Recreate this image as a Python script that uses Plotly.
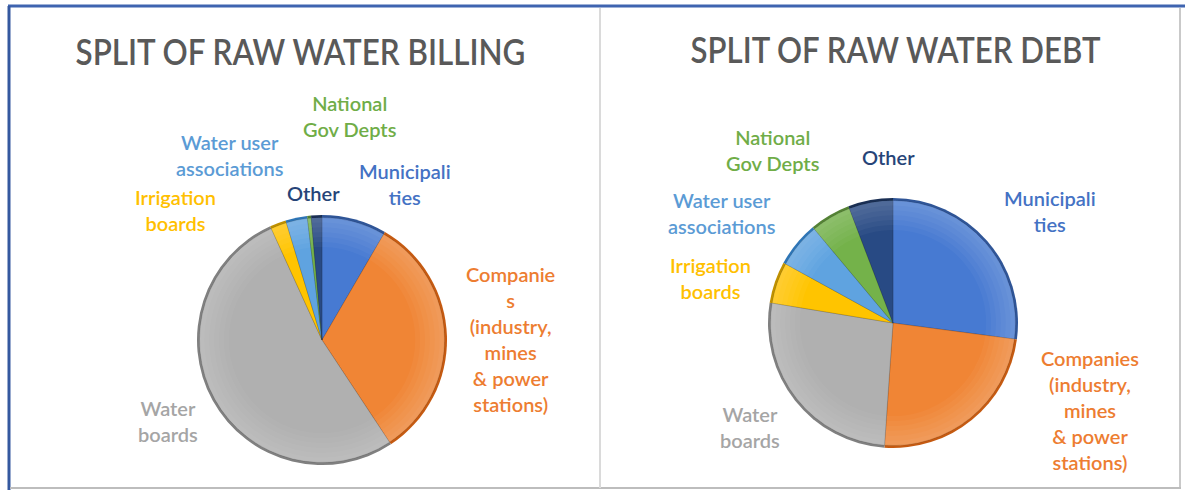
import plotly.graph_objects as go

W, H = 1185, 493

# Customer groups, in clockwise order from 12 o'clock
categories = ["Municipalities", "Companies", "Water boards", "Irrigation boards",
              "Water user associations", "National Gov Depts", "Other"]

# Share of raw water billing and raw water debt (%)
billing_share = [8.4, 32.3, 52.5, 2.1, 2.8, 0.5, 1.4]
debt_share = [27.1, 24.0, 26.5, 5.4, 5.9, 5.3, 5.8]

# Label text per chart (Excel-style wrapping)
billing_labels = ["Municipali<br>ties",
                  "Companie<br>s<br>(industry,<br>mines<br>& power<br>stations)",
                  "Water<br>boards", "Irrigation<br>boards",
                  "Water user<br>associations", "National<br>Gov Depts", "Other"]
debt_labels = ["Municipali<br>ties",
               "Companies<br>(industry,<br>mines<br>& power<br>stations)",
               "Water<br>boards", "Irrigation<br>boards",
               "Water user<br>associations", "National<br>Gov Depts", "Other"]

chart_titles = ["SPLIT OF RAW WATER BILLING", "SPLIT OF RAW WATER DEBT"]

colors = ["#477AD2", "#F08535", "#B0B0B0", "#FFC400", "#5FA3E0", "#74B24A", "#284A84"]
label_colors = ["#4472C4", "#ED7D31", "#A5A5A5", "#FFC000", "#5B9BD5", "#70AD47", "#264478"]
rim_colors = ["#2F5597", "#C55A11", "#808080", "#BF9000", "#2E75B6", "#548235", "#1A2F54"]

# label centres in pixels (x, y from top)
billing_label_pos = [(405, 184), (510, 339), (168, 421), (175, 210),
                     (230, 155), (350, 116), (313, 193)]
debt_label_pos = [(1050, 211), (1090, 410), (750, 427), (710, 278),
                  (722, 213), (773, 150), (888, 157)]

# title centre (x, y) and rendered width in pixels
title_layout = [(300, 51, 450), (895, 48, 410)]


def px(x):
    return x / W


def py(y):
    return 1 - y / H


def pie_layers(values, cx, cy, r, name):
    """Darker rim, base-coloured pie, then faint white rings for a bevel sheen."""
    def dom(rad):
        return dict(x=[px(cx - rad), px(cx + rad)], y=[py(cy + rad), py(cy - rad)])

    common = dict(labels=categories, values=values, sort=False, direction="clockwise",
                  rotation=0, textinfo="none", name=name, showlegend=False)
    traces = [
        go.Pie(**common, hoverinfo="skip", domain=dom(r),
               marker=dict(colors=rim_colors, line=dict(width=0))),
        go.Pie(**common, hoverinfo="label+percent", domain=dom(r - 2.5),
               marker=dict(colors=colors, line=dict(color="rgba(0,0,0,0.18)", width=0.8))),
    ]
    for hole in (0.96, 0.92, 0.88, 0.84, 0.80, 0.76):
        traces.append(go.Pie(**common, hoverinfo="skip", hole=hole, domain=dom(r - 2.5),
                             marker=dict(colors=["rgba(255,255,255,0.035)"] * len(values),
                                         line=dict(width=0))))
    return traces


fig = go.Figure()
for t in pie_layers(billing_share, 322, 340, 125, "Billing"):
    fig.add_trace(t)
for t in pie_layers(debt_share, 893, 323, 125, "Debt"):
    fig.add_trace(t)

label_font = "Lato, 'Open Sans', sans-serif"
annotations = []
for labels, positions in ((billing_labels, billing_label_pos), (debt_labels, debt_label_pos)):
    for text, (x, y), c in zip(labels, positions, label_colors):
        annotations.append(dict(
            text=text, x=px(x), y=py(y), xref="paper", yref="paper",
            xanchor="center", yanchor="middle", align="center", showarrow=False,
            font=dict(family=label_font, size=20, color=c, weight=600),
        ))

title_font = dict(family=label_font, size=37, color="#595959", weight=600)
for text, (x, y, _) in zip(chart_titles, title_layout):
    annotations.append(dict(text=text, x=px(x), y=py(y), xref="paper", yref="paper",
                            showarrow=False, xanchor="center", yanchor="middle",
                            font=title_font))

shapes = [
    # outer frame
    dict(type="line", x0=px(8), x1=px(1185), y0=py(6), y1=py(6),
         xref="paper", yref="paper", line=dict(color="#3F64B0", width=3)),
    dict(type="line", x0=px(9), x1=px(9), y0=py(6), y1=py(490),
         xref="paper", yref="paper", line=dict(color="#34589F", width=3)),
    dict(type="line", x0=px(1180), x1=px(1180), y0=py(8), y1=py(488),
         xref="paper", yref="paper", line=dict(color="#C9C9C9", width=2)),
    dict(type="line", x0=px(10), x1=px(1181), y0=py(488), y1=py(488),
         xref="paper", yref="paper", line=dict(color="#BDBDBD", width=2)),
    # divider between the two charts
    dict(type="line", x0=px(600), x1=px(600), y0=py(8), y1=py(488),
         xref="paper", yref="paper", line=dict(color="#DADADA", width=2)),
]

fig.update_layout(
    width=W, height=H, margin=dict(l=0, r=0, t=0, b=0),
    paper_bgcolor="white", plot_bgcolor="white",
    annotations=annotations, shapes=shapes,
)

# The titles are set in a condensed cut: squeeze each one horizontally
# to its target width around its own centre.
title_widths = {text: w for text, (_, _, w) in zip(chart_titles, title_layout)}
condense_js = """
var gd = document.getElementById('{plot_id}');
var widths = %s;
gd.querySelectorAll('text.annotation-text').forEach(function (t) {
  var w = widths[t.textContent];
  if (!w) return;
  var b = t.getBBox();
  if (!b.width) return;
  var s = w / b.width;
  var cx = b.x + b.width / 2;
  var old = t.getAttribute('transform') || '';
  t.setAttribute('transform', old + ' translate(' + (cx * (1 - s)) + ',0) scale(' + s + ',1)');
});
""" % str(title_widths).replace("'", '"')

fig.write_html("out.html", post_script=condense_js)
